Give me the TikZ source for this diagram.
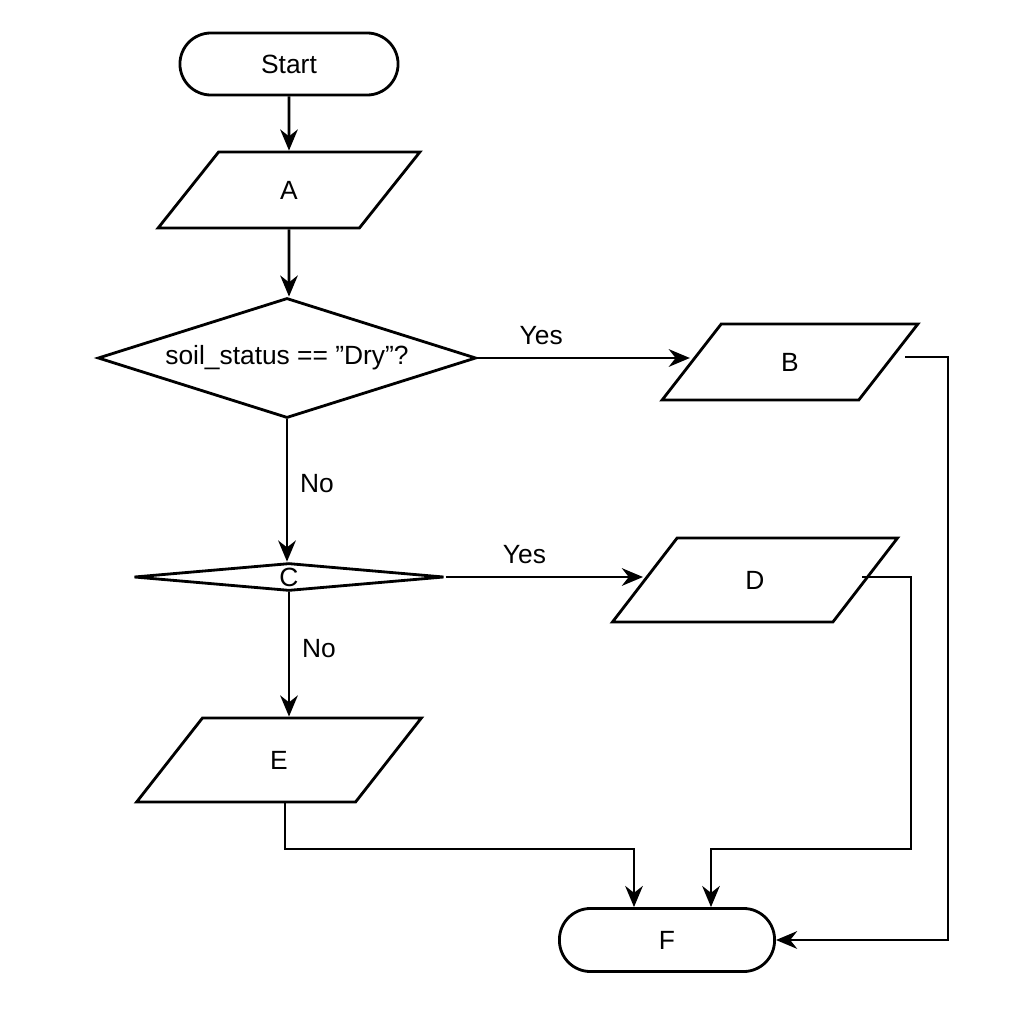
\documentclass[tikz,border=0pt]{standalone}
\usepackage{fontspec}
\setmainfont{Liberation Sans}
\usetikzlibrary{shapes.geometric,arrows.meta}

\tikzset{
  term/.style={draw,thick,rounded corners=0.31cm,minimum width=2.18cm,minimum height=0.62cm},
  io/.style={draw,thick,trapezium,trapezium left angle=67,trapezium right angle=113,
    trapezium stretches=true,minimum height=0.76cm},
  decide/.style={draw,thick,diamond,inner sep=0pt},
  flow/.style={thick,-{Stealth[length=6pt,width=5pt]}},
  lbl/.style={font=\fontsize{7.5}{9}\selectfont}
}

\begin{document}
\begin{tikzpicture}[x=0.01cm,y=-0.01cm,font=\fontsize{7.5}{9}\selectfont]
      \useasboundingbox (0,0) rectangle (1024,1024);
      \node[term] (start) at (289,64) {Start};
      \node[io,minimum width=2.62cm] (a) at (289,190) {A};
      \node[decide,aspect=2.55,minimum width=3.78cm] (d1) at (287,358) {soil\_status == \symbol{34}Dry\symbol{34}?};
      \node[io,minimum width=2.56cm] (b) at (790,362) {B};
      \node[decide,aspect=2.07,minimum width=3.10cm] (d2) at (289,577) {C};
      \node[io,minimum width=2.85cm,minimum height=0.84cm] (d) at (755,580) {D};
      \node[io,minimum width=2.85cm,minimum height=0.84cm] (e) at (279,760) {E};
      \node[term,minimum width=2.15cm,minimum height=0.63cm] (f) at (667,940) {F};
      % routing corners
      \coordinate (eturn) at (634,849);
      \coordinate (dturn) at (711,849);
      \draw[flow] (start) -- (a);
      \draw[flow] (a) -- (a.south |- d1.north);
      \draw[flow] (d1.east) -- node[lbl,above,pos=0.3]{Yes} (b.west |- d1.east);
      \draw[flow] (d1.south) -- node[lbl,right,pos=0.45]{No} (d1.south |- d2.north);
      \draw[flow] (d2.east) -- node[lbl,above,pos=0.4]{Yes} (d.west |- d2.east);
      \draw[flow] (d2.south) -- node[lbl,right,pos=0.45]{No} (d2.south |- e.north);
      \draw[flow] (285,802) |- (eturn) -- (eturn |- f.north);
      \draw[flow] (862,577) -| (911,849) -- (dturn) -- (dturn |- f.north);
      \draw[flow] (905,357) -| (948,940) -- (f.east);
    \end{tikzpicture}
\end{document}
